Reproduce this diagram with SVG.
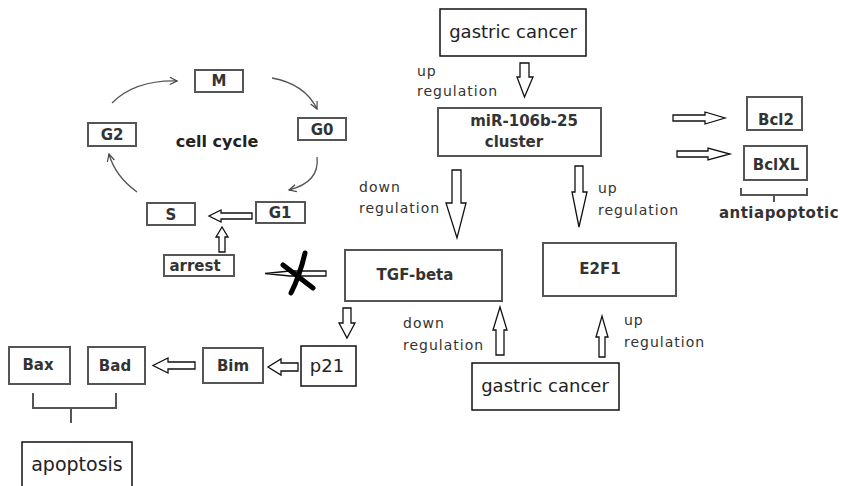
<svg xmlns="http://www.w3.org/2000/svg" width="844" height="486" viewBox="0 0 844 486">
<defs>
<style>
.bx{fill:#fff;stroke:#555;stroke-width:2}
.bk{fill:#fff;stroke:#111;stroke-width:1.5}
.nl{font-family:"DejaVu Sans",Verdana,sans-serif;font-weight:bold;font-size:15px;fill:#333;text-anchor:middle}
.gl{font-family:"DejaVu Sans",Verdana,sans-serif;font-size:18px;fill:#222;text-anchor:middle}
.lb{font-family:"DejaVu Sans",Verdana,sans-serif;font-size:14px;fill:#333;letter-spacing:1px}
.ha{fill:#fff;stroke:#111;stroke-width:1.3;stroke-linejoin:miter}
.cv{fill:none;stroke:#555;stroke-width:1.3}
.br{fill:none;stroke:#555;stroke-width:2}
</style>
<marker id="ah" viewBox="0 0 10 10" refX="9" refY="5" markerWidth="9" markerHeight="9" orient="auto" markerUnits="userSpaceOnUse">
<path d="M1,1 L9,5 L1,9" fill="none" stroke="#444" stroke-width="1.3"/>
</marker>
</defs>
<rect width="844" height="486" fill="#fff"/>

<g id="connectors">
<path class="cv" d="M272,78 Q305,84 317,109" marker-end="url(#ah)"/>
<path class="cv" d="M317,157 Q320,182 289,190" marker-end="url(#ah)"/>
<path class="cv" d="M137,192 Q115,176 109,154" marker-end="url(#ah)"/>
<path class="cv" d="M112,103 Q135,80 177,81" marker-end="url(#ah)"/>
<path class="ha" d="M520,63 H529 V77 H533 L524.5,97 L517,77 H520 Z"/>
<path class="ha" d="M452,170 H461 V203 H466 L457,238 L446,203 H452 Z"/>
<path class="ha" d="M575,166 H583 V192 H587 L579,227 L572,192 H575 Z"/>
<path class="ha" d="M673,115 V121 H705 V124 L725,118 L705,112 V115 Z"/>
<path class="ha" d="M677,151 V157 H708 V160 L730,154 L708,148 V151 Z"/>
<path class="ha" d="M252,213 V219 H221 V222 L209,216 L221,210 V213 Z"/>
<path class="ha" d="M219,252 H225 V237 H228 L222,227 L216,237 H219 Z"/>
<path class="ha" d="M326,271 H290 L265,273.5 L290,276 H326 Z"/>
<path d="M305,253 Q300,275 291,293 M283,265 Q300,278 313,288" fill="none" stroke="#000" stroke-width="5" stroke-linecap="round"/>
<path class="ha" d="M343,308 H351 V323 H355 L347,338 L339,323 H343 Z"/>
<path class="ha" d="M298,363 V371 H281 V375 L268,367 L281,359 V363 Z"/>
<path class="ha" d="M195,362 V369 H168 V373 L153,365.5 L168,358 V362 Z"/>
<path class="ha" d="M496,355 V330 H493 L500,307 L507,330 H504 V355 Z"/>
<path class="ha" d="M599,357 V337 H596 L602,316 L608,337 H605 V357 Z"/>
<path class="br" d="M741,188 V195 H807 V188 M774,195 V202"/>
<path class="br" d="M33,393 V408 H116 V393 M71,408 V423"/>
</g>

<g id="labels">
<text class="lb" x="417" y="76">up</text>
<text class="lb" x="417" y="96">regulation</text>
<text class="lb" x="359" y="192">down</text>
<text class="lb" x="359" y="213">regulation</text>
<text class="lb" x="598" y="193">up</text>
<text class="lb" x="598" y="215">regulation</text>
<text class="lb" x="403" y="328">down</text>
<text class="lb" x="403" y="350">regulation</text>
<text class="lb" x="624" y="325">up</text>
<text class="lb" x="624" y="347">regulation</text>
<text x="779" y="218" style="font-family:'DejaVu Sans',Verdana,sans-serif;font-weight:bold;font-size:15px;fill:#333;text-anchor:middle;letter-spacing:0.5px">antiapoptotic</text>
<text x="217" y="147" style="font-family:'DejaVu Sans',Verdana,sans-serif;font-weight:bold;font-size:16px;fill:#222;text-anchor:middle">cell cycle</text>
</g>

<g id="gastric-top"><rect class="bk" x="440" y="9" width="146" height="47"/><text class="gl" x="513" y="38">gastric cancer</text></g>
<g id="mir"><rect class="bx" x="438" y="108" width="163" height="48"/><text class="nl" x="524" y="126">miR-106b-25</text><text class="nl" x="514" y="147">cluster</text></g>
<g id="bcl2"><rect class="bx" x="747" y="97" width="55" height="33"/><text class="nl" x="776" y="125">Bcl2</text></g>
<g id="bclxl"><rect class="bx" x="744" y="146" width="63" height="34"/><text class="nl" x="776" y="170">BclXL</text></g>
<g id="M"><rect class="bx" x="195" y="70" width="48" height="22"/><text class="nl" x="219" y="86">M</text></g>
<g id="G0"><rect class="bx" x="298" y="118" width="48" height="22"/><text class="nl" x="322" y="135">G0</text></g>
<g id="G2"><rect class="bx" x="88" y="123" width="48" height="23"/><text class="nl" x="112" y="140">G2</text></g>
<g id="G1"><rect class="bx" x="256" y="202" width="49" height="21"/><text class="nl" x="280" y="218">G1</text></g>
<g id="S"><rect class="bx" x="147" y="203" width="48" height="22"/><text class="nl" x="171" y="220">S</text></g>
<g id="arrest"><rect class="bx" x="164" y="255" width="70" height="21"/><text class="nl" x="195" y="271">arrest</text></g>
<g id="tgf"><rect class="bx" x="345" y="250" width="157" height="51"/><text class="nl" x="415" y="280">TGF-beta</text></g>
<g id="e2f1"><rect class="bx" x="543" y="243" width="133" height="53"/><text class="nl" x="600" y="274">E2F1</text></g>
<g id="gastric-bottom"><rect class="bk" x="472" y="363" width="147" height="47"/><text class="gl" x="545" y="392">gastric cancer</text></g>
<g id="p21"><rect class="bk" x="301" y="346" width="55" height="40"/><text class="gl" x="327" y="372">p21</text></g>
<g id="bim"><rect class="bx" x="203" y="348" width="60" height="35"/><text class="nl" x="233" y="371">Bim</text></g>
<g id="bad"><rect class="bx" x="88" y="347" width="57" height="37"/><text class="nl" x="115" y="371">Bad</text></g>
<g id="bax"><rect class="bx" x="9" y="347" width="61" height="37"/><text class="nl" x="38" y="370">Bax</text></g>
<g id="apoptosis"><rect class="bk" x="22" y="442" width="110" height="50"/><text class="gl" x="77" y="471" style="font-size:19px">apoptosis</text></g>
</svg>
